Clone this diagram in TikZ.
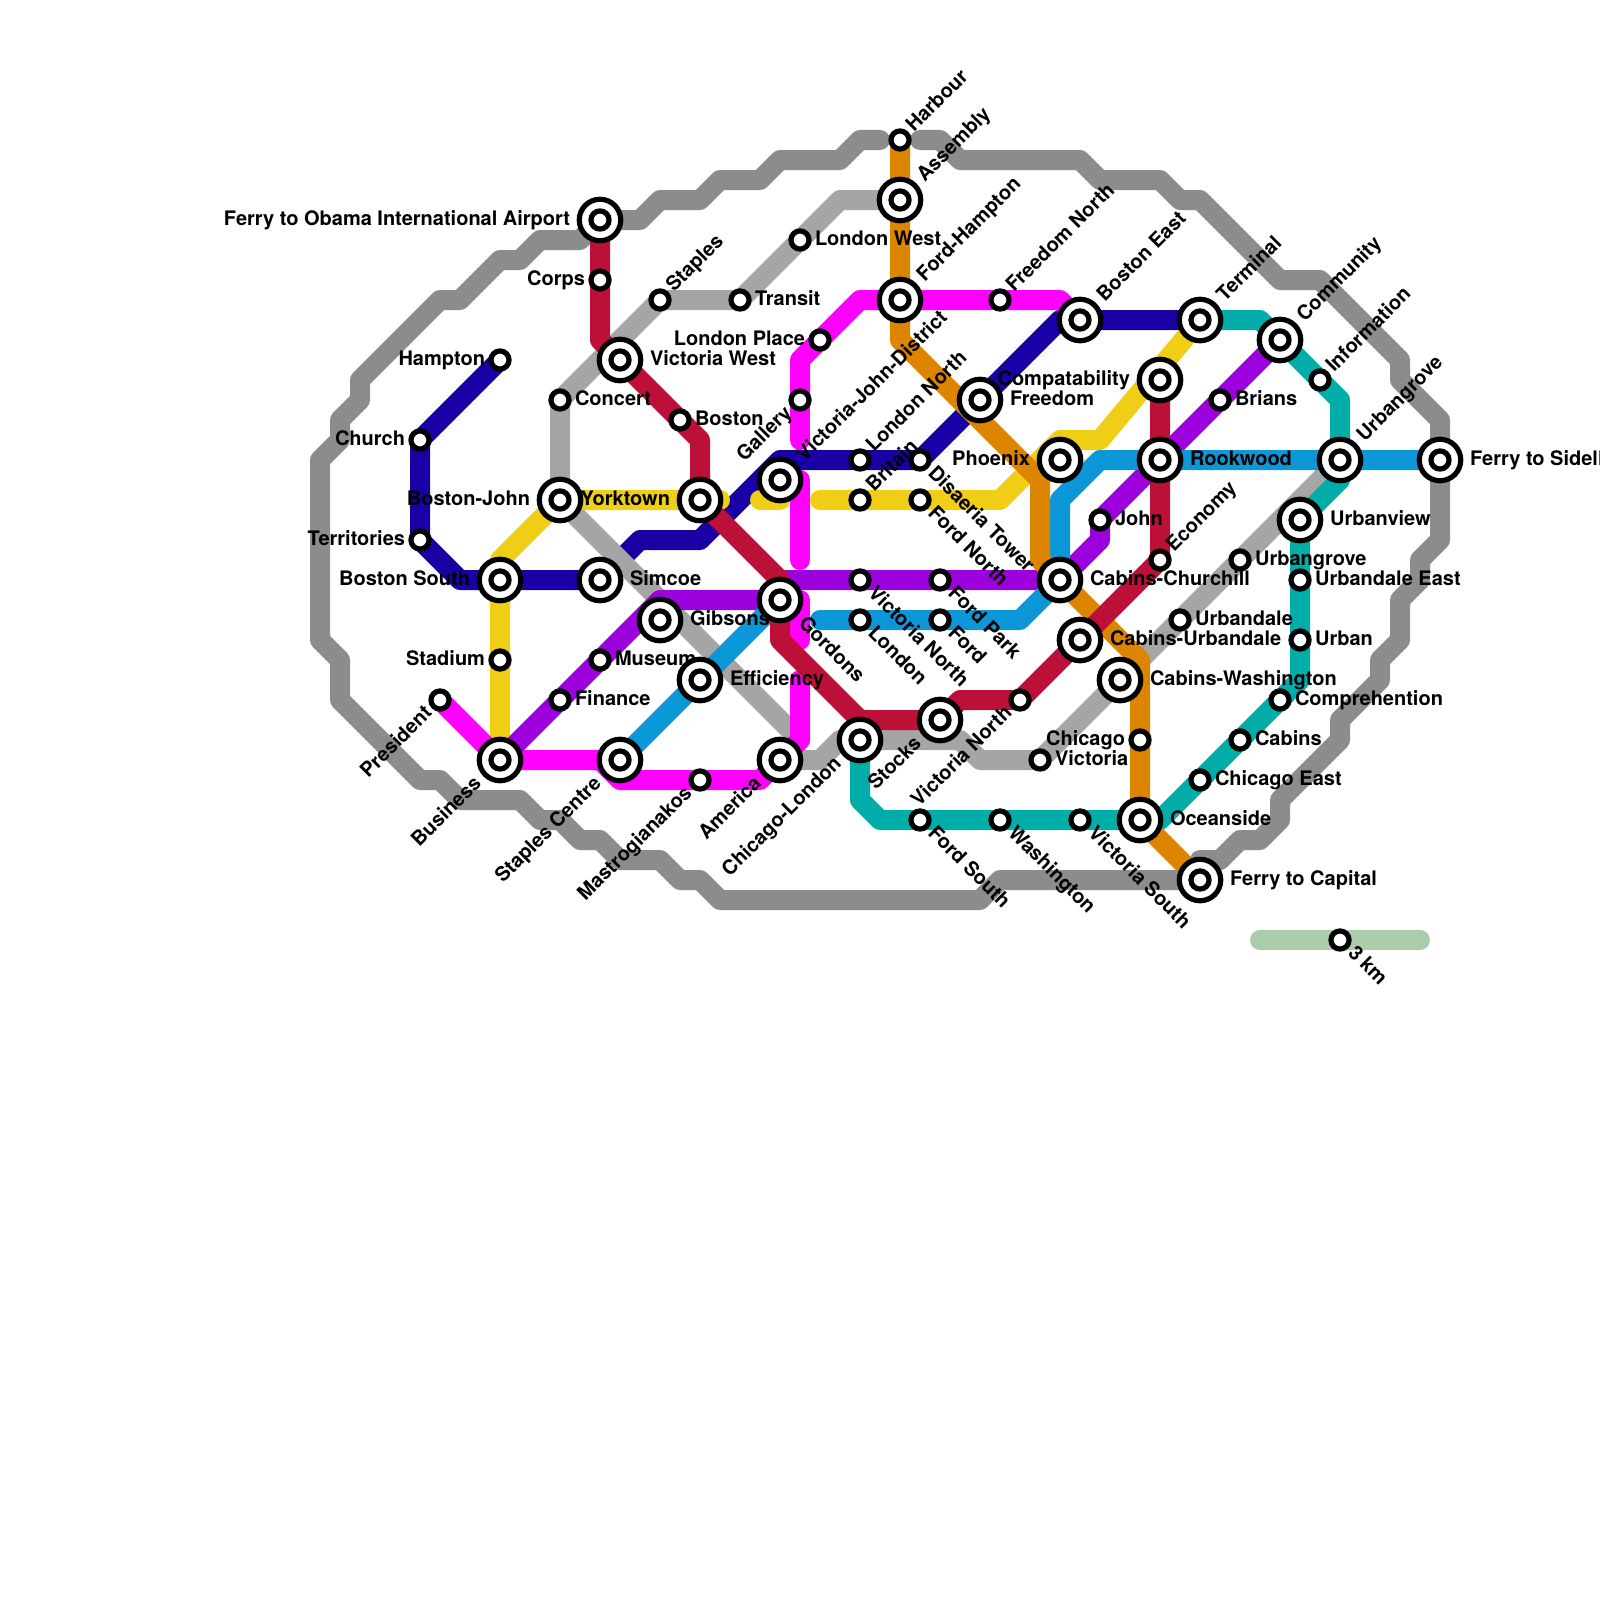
\documentclass[tikz,border=0pt]{standalone}
\usepackage{fontspec}
\setmainfont{TeX Gyre Heros}
\pgfdeclarelayer{lines}
\pgfsetlayers{lines,main}
\definecolor{cOuter}{HTML}{8C8C8C}
\definecolor{cLight}{HTML}{A5A5A5}
\definecolor{cMaroon}{HTML}{BD1038}
\definecolor{cNavy}{HTML}{1800A4}
\definecolor{cYellow}{HTML}{F0CE15}
\definecolor{cMagenta}{HTML}{FF00FF}
\definecolor{cPurple}{HTML}{9C00DC}
\definecolor{cSky}{HTML}{0B97D8}
\definecolor{cOrange}{HTML}{DE8500}
\definecolor{cTeal}{HTML}{00ADA9}
\definecolor{cScale}{HTML}{ABCDAB}
\tikzset{
  metro/.style={line width=10pt,line cap=round,line join=round},
  ring/.style={draw=black,fill=white,line width=2.6pt},
  big/.style={circle,minimum size=23pt,inner sep=0pt,outer sep=0pt},
  small/.style={circle,minimum size=11pt,inner sep=0pt,outer sep=0pt},
  lbl/.style={font=\fontsize{10pt}{12pt}\selectfont\bfseries,text=black,inner sep=0pt,outer sep=0pt},
  lR/.style={lbl,anchor=base west,xshift=#1*0.5pt,yshift=-2.5pt},
  lL/.style={lbl,anchor=base east,xshift=-#1*0.5pt,yshift=-2.5pt},
  lUR/.style={lbl,rotate=45,anchor=base west,xshift=#1*0.5pt,yshift=-2.5pt},
  lDR/.style={lbl,rotate=-45,anchor=base west,xshift=#1*0.5pt,yshift=-2.5pt},
  lDL/.style={lbl,rotate=45,anchor=base east,xshift=-#1*0.5pt,yshift=-2.5pt},
}
% \stn{shape}{name}{x,y}{label style}{text}
\newcommand\stn[5]{%
  \def\tmpd{15}\ifx#1b\def\tmpd{30}\fi
  \ifx#1b\node[big] (#2) at (#3) {};\draw[ring] (#2.center) circle (10.37pt);\else\node[small] (#2) at (#3) {};\fi
  \draw[ring] (#2.center) circle (4.53pt);
  \node[#4=\tmpd] (#2-t) at (#2.center) {#5};}
\begin{document}
\begin{tikzpicture}[x=0.5pt,y=-0.5pt]
\useasboundingbox (0,0) rectangle (1600,1600);
\stn{b}{obama}{600,220}{lL}{Ferry to Obama International Airport}
\stn{s}{corps}{600,280}{lL}{Corps}
\stn{b}{vicwest}{620,360}{lR}{Victoria West}
\stn{s}{concert}{560,400}{lR}{Concert}
\stn{s}{boston}{680,420}{lR}{Boston}
\stn{s}{staples}{660,300}{lUR}{Staples}
\stn{s}{transit}{740,300}{lR}{Transit}
\stn{s}{hampton}{500,360}{lL}{Hampton}
\stn{s}{church}{420,440}{lL}{Church}
\stn{s}{territories}{420,540}{lL}{Territories}
\stn{b}{bostonjohn}{560,500}{lL}{Boston-John}
\stn{b}{yorktown}{700,500}{lL}{Yorktown}
\stn{b}{vjd}{780,480}{lUR}{Victoria-John-District}
\stn{s}{gallery}{800,400}{lDL}{Gallery}
\stn{s}{londonplace}{820,340}{lL}{London Place}
\stn{s}{londonwest}{800,240}{lR}{London West}
\stn{s}{harbour}{900,140}{lUR}{Harbour}
\stn{b}{assembly}{900,200}{lUR}{Assembly}
\stn{b}{fordhampton}{900,300}{lUR}{Ford-Hampton}
\stn{s}{freedomnorth}{1000,300}{lUR}{Freedom North}
\stn{b}{bostoneast}{1080,320}{lUR}{Boston East}
\stn{b}{terminal}{1200,320}{lUR}{Terminal}
\stn{b}{community}{1280,340}{lUR}{Community}
\stn{b}{freedom}{980,400}{lR}{Freedom}
\stn{b}{compat}{1160,380}{lL}{Compatability}
\stn{s}{londonnorth}{860,460}{lUR}{London North}
\stn{s}{britain}{860,500}{lUR}{Britain}
\stn{s}{disaeria}{920,460}{lDR}{Disaeria Tower}
\stn{s}{fordnorth}{920,500}{lDR}{Ford North}
\stn{b}{phoenix}{1060,460}{lL}{Phoenix}
\stn{b}{rookwood}{1160,460}{lR}{Rookwood}
\stn{s}{john}{1100,520}{lR}{John}
\stn{s}{economy}{1160,560}{lUR}{Economy}
\stn{b}{churchill}{1060,580}{lR}{Cabins-Churchill}
\stn{s}{brians}{1220,400}{lR}{Brians}
\stn{s}{information}{1320,380}{lUR}{Information}
\stn{b}{urbangroveB}{1340,460}{lUR}{Urbangrove}
\stn{b}{sidell}{1440,460}{lR}{Ferry to Sidell}
\stn{b}{urbanview}{1300,520}{lR}{Urbanview}
\stn{s}{urbangroveS}{1240,560}{lR}{Urbangrove}
\stn{s}{urbandaleE}{1300,580}{lR}{Urbandale East}
\stn{s}{urbandale}{1180,620}{lR}{Urbandale}
\stn{s}{urban}{1300,640}{lR}{Urban}
\stn{b}{cabinsurb}{1080,640}{lR}{Cabins-Urbandale}
\stn{b}{cabinswash}{1120,680}{lR}{Cabins-Washington}
\stn{s}{comprehention}{1280,700}{lR}{Comprehention}
\stn{s}{cabins}{1240,740}{lR}{Cabins}
\stn{s}{chicagoeast}{1200,780}{lR}{Chicago East}
\stn{s}{chicago}{1140,740}{lL}{Chicago}
\stn{s}{victoria}{1040,760}{lR}{Victoria}
\stn{b}{oceanside}{1140,820}{lR}{Oceanside}
\stn{b}{capital}{1200,880}{lR}{Ferry to Capital}
\stn{s}{vicnorthA}{860,580}{lDR}{Victoria North}
\stn{s}{fordpark}{940,580}{lDR}{Ford Park}
\stn{s}{london}{860,620}{lDR}{London}
\stn{s}{ford}{940,620}{lDR}{Ford}
\stn{b}{gordons}{780,600}{lDR}{Gordons}
\stn{b}{gibsons}{660,620}{lR}{Gibsons}
\stn{b}{simcoe}{600,580}{lR}{Simcoe}
\stn{b}{bostonsouth}{500,580}{lL}{Boston South}
\stn{s}{stadium}{500,660}{lL}{Stadium}
\stn{s}{president}{440,700}{lDL}{President}
\stn{b}{business}{500,760}{lDL}{Business}
\stn{s}{museum}{600,660}{lR}{Museum}
\stn{s}{finance}{560,700}{lR}{Finance}
\stn{b}{efficiency}{700,680}{lR}{Efficiency}
\stn{b}{staplescentre}{620,760}{lDL}{Staples Centre}
\stn{s}{mastro}{700,780}{lDL}{Mastrogianakos}
\stn{b}{america}{780,760}{lDL}{America}
\stn{b}{chicagolondon}{860,740}{lDL}{Chicago-London}
\stn{b}{stocks}{940,720}{lDL}{Stocks}
\stn{s}{vicnorthB}{1020,700}{lDL}{Victoria North}
\stn{s}{fordsouth}{920,820}{lDR}{Ford South}
\stn{s}{washington}{1000,820}{lDR}{Washington}
\stn{s}{vicsouth}{1080,820}{lDR}{Victoria South}
\stn{s}{scalemark}{1340,940}{lDR}{3 km}
\coordinate (scaleA) at (1260,940);
\coordinate (scaleB) at (1420,940);
\begin{pgfonlayer}{lines}
% outer grey
\draw[metro,cOuter] (obama.center) -- (640,220) -- (660,200) -- (700,200) -- (720,180) -- (760,180) -- (780,160) -- (840,160) -- (860,140) -- (880,140);
\draw[metro,cOuter] (920,140) -- (940,140) -- (960,160) -- (1080,160) -- (1100,180) -- (1160,180) -- (1180,200) -- (1200,200) -- (1280,280) -- (1320,280) -- (1400,360) -- (1400,380) -- (1440,420) -- (sidell.center) -- (1440,540) -- (1420,560) -- (1420,580) -- (1400,600) -- (1400,640) -- (1380,660) -- (1380,680) -- (1340,720) -- (1340,740) -- (1280,800) -- (1280,820) -- (1260,840) -- (1240,840) -- (1220,860) -- (1200,860) -- (capital.center) -- (1000,880) -- (980,900) -- (720,900) -- (700,880) -- (680,880) -- (660,860) -- (620,860) -- (600,840) -- (580,840) -- (560,820) -- (540,820) -- (520,800) -- (460,800) -- (440,780) -- (420,780) -- (340,700) -- (340,660) -- (320,640) -- (320,460) -- (340,440) -- (340,420) -- (360,400) -- (360,380) -- (440,300) -- (460,300) -- (500,260) -- (520,260) -- (540,240) -- (580,240) -- (obama.center);
% navy
\draw[metro,cNavy] (hampton.center) -- (church.center) -- (territories.center) -- (460,580) -- (simcoe.center) -- (640,540) -- (700,540) -- (780,460) -- (disaeria.center) -- (1060,320) -- (terminal.center);
% light grey
\draw[metro,cLight] (assembly.center) -- (840,200) -- (transit.center) -- (staples.center) -- (concert.center) -- (bostonjohn.center) -- (800,740) -- (america.center) -- (820,760) -- (840,740) -- (chicagolondon.center) -- (960,740) -- (980,760) -- (victoria.center) -- (urbangroveB.center);
% yellow
\draw[metro,cYellow] (business.center) -- (500,560) -- (bostonjohn.center) -- (720,500);
\draw[metro,cYellow] (760,500) -- (780,500) -- (vjd.center);
\draw[metro,cYellow] (820,500) -- (1000,500) -- (1060,440) -- (1100,440) -- (terminal.center);
% magenta
\draw[metro,cMagenta] (president.center) -- (business.center) -- (600,760) -- (620,780) -- (760,780) -- (america.center) -- (800,740) -- (800,680);
\draw[metro,cMagenta] (gordons.center) -- (800,600) -- (800,640);
\draw[metro,cMagenta] (vjd.center) -- (800,480) -- (800,560);
\draw[metro,cMagenta] (gallery.center) -- (800,440);
\draw[metro,cMagenta] (gallery.center) -- (800,360) -- (860,300) -- (1060,300) -- (bostoneast.center);
% purple
\draw[metro,cPurple] (business.center) -- (660,600) -- (780,600) -- (780,580) -- (1060,580) -- (1100,540) -- (john.center) -- (community.center);
% sky
\draw[metro,cSky] (staplescentre.center) -- (gordons.center);
\draw[metro,cSky] (820,620) -- (1020,620) -- (churchill.center) -- (1060,500) -- (1100,460) -- (sidell.center);
% teal
\draw[metro,cTeal] (terminal.center) -- (1260,320) -- (community.center) -- (1340,400) -- (urbangroveB.center) -- (1340,480) -- (urbanview.center) -- (1300,680) -- (1160,820) -- (880,820) -- (860,800) -- (chicagolondon.center);
% orange
\draw[metro,cOrange] (harbour.center) -- (900,340) -- (1040,480) -- (1040,560) -- (1140,660) -- (oceanside.center) -- (capital.center);
% maroon
\draw[metro,cMaroon] (obama.center) -- (600,340) -- (700,440) -- (yorktown.center) -- (780,580) -- (gordons.center) -- (780,640) -- (860,720) -- (940,720) -- (960,700) -- (1020,700) -- (economy.center) -- (compat.center);
% scale
\draw[metro,cScale] (scaleA) -- (scaleB);
\end{pgfonlayer}
\end{tikzpicture}
\end{document}
